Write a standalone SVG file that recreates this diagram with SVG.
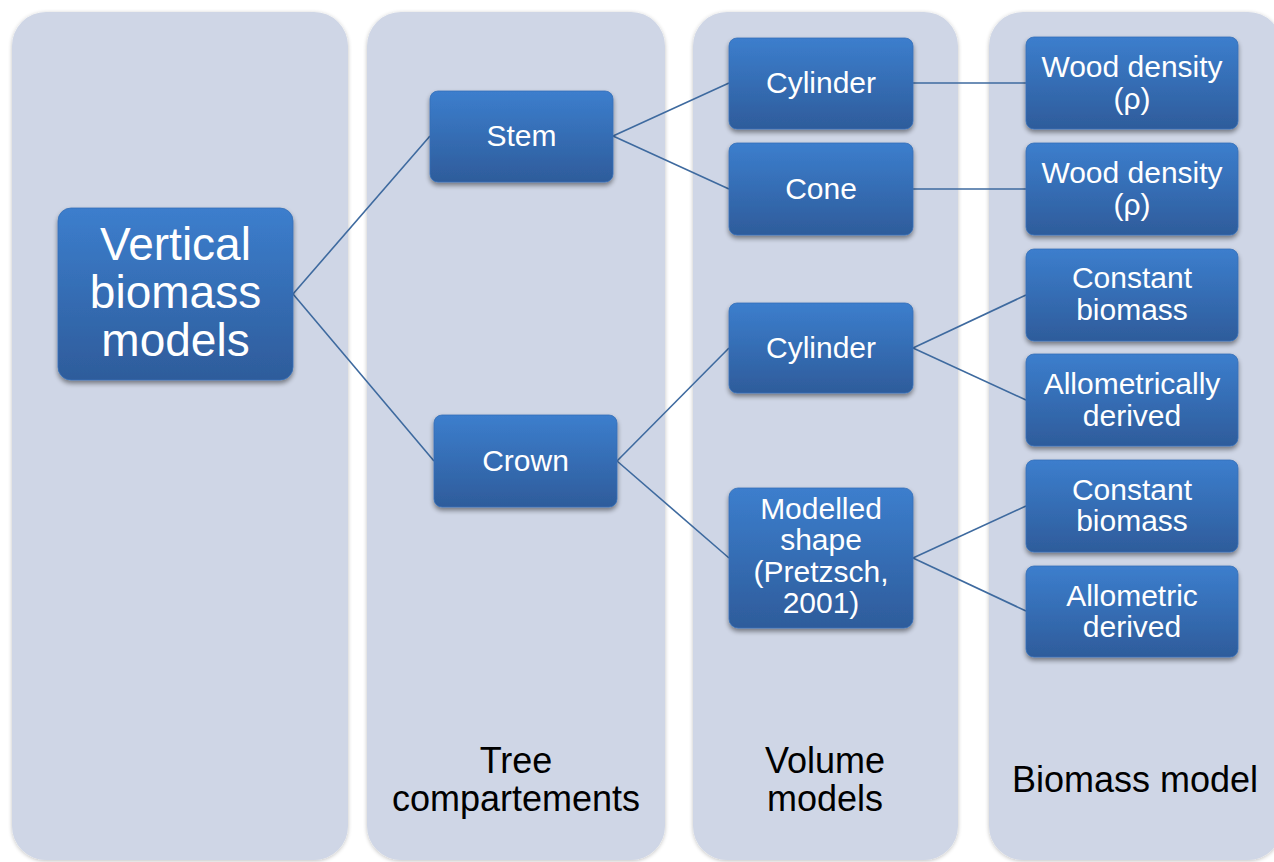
<svg xmlns="http://www.w3.org/2000/svg" width="1274" height="862" viewBox="0 0 1274 862">
<defs>
<linearGradient id="nodeGrad" x1="0" y1="0" x2="0" y2="1">
<stop offset="0" stop-color="#3c7ecd"/>
<stop offset="1" stop-color="#2e5c9b"/>
</linearGradient>
<filter id="nodeShadow" x="-20%" y="-20%" width="140%" height="150%">
<feGaussianBlur in="SourceAlpha" stdDeviation="2.5"/>
<feOffset dx="0" dy="3" result="b"/>
<feComponentTransfer><feFuncA type="linear" slope="0.45"/></feComponentTransfer>
<feMerge><feMergeNode/><feMergeNode in="SourceGraphic"/></feMerge>
</filter>
<filter id="colShadow" x="-10%" y="-5%" width="120%" height="110%">
<feGaussianBlur in="SourceAlpha" stdDeviation="2"/>
<feOffset dx="0" dy="1" result="b"/>
<feComponentTransfer><feFuncA type="linear" slope="0.25"/></feComponentTransfer>
<feMerge><feMergeNode/><feMergeNode in="SourceGraphic"/></feMerge>
</filter>
</defs>
<style>
.col{fill:#cfd6e6;filter:url(#colShadow);}
.node{fill:url(#nodeGrad);stroke:#3670b8;stroke-width:0.8;filter:url(#nodeShadow);}
.nt{font-family:"Liberation Sans",Arial,sans-serif;font-size:30px;fill:#ffffff;text-anchor:middle;}
.big{font-size:46px;}
.lbl{font-family:"Liberation Sans",Arial,sans-serif;font-size:36px;fill:#000000;text-anchor:middle;}
.conn{stroke:#3e6a9f;stroke-width:1.6;fill:none;}
</style>
<rect width="1274" height="862" fill="#ffffff"/>
<g id="columns">
<rect class="col" x="12" y="12" width="336" height="848" rx="34"/>
<rect class="col" x="367" y="12" width="298" height="848" rx="34"/>
<rect class="col" x="693" y="12" width="265" height="848" rx="34"/>
<rect class="col" x="989" y="12" width="293" height="848" rx="34"/>
</g>
<g id="column-labels">
<text class="lbl" x="516" y="773">Tree</text>
<text class="lbl" x="516" y="811">compartements</text>
<text class="lbl" x="825" y="773">Volume</text>
<text class="lbl" x="825" y="811">models</text>
<text class="lbl" x="1135" y="792">Biomass model</text>
</g>
<g id="connectors">
<line class="conn" x1="293" y1="294" x2="430" y2="136"/>
<line class="conn" x1="293" y1="294" x2="434" y2="461"/>
<line class="conn" x1="613" y1="136" x2="729" y2="83"/>
<line class="conn" x1="613" y1="136" x2="729" y2="189"/>
<line class="conn" x1="617" y1="461" x2="729" y2="348"/>
<line class="conn" x1="617" y1="461" x2="729" y2="558"/>
<line class="conn" x1="913" y1="83" x2="1026" y2="83"/>
<line class="conn" x1="913" y1="189" x2="1026" y2="189"/>
<line class="conn" x1="913" y1="348" x2="1026" y2="295"/>
<line class="conn" x1="913" y1="348" x2="1026" y2="400"/>
<line class="conn" x1="913" y1="558" x2="1026" y2="506"/>
<line class="conn" x1="913" y1="558" x2="1026" y2="611"/>
</g>
<g id="n-vertical">
<rect class="node" x="58" y="208" width="235" height="172" rx="13"/>
<text class="nt big" x="175.5" y="260">Vertical</text>
<text class="nt big" x="175.5" y="308">biomass</text>
<text class="nt big" x="175.5" y="356">models</text>
</g>
<g id="n-stem">
<rect class="node" x="430" y="91" width="183" height="91" rx="8"/>
<text class="nt" x="521.5" y="146">Stem</text>
</g>
<g id="n-crown">
<rect class="node" x="434" y="415" width="183" height="92" rx="8"/>
<text class="nt" x="525.5" y="471">Crown</text>
</g>
<g id="n-cylinder1">
<rect class="node" x="729" y="38" width="184" height="91" rx="8"/>
<text class="nt" x="821" y="93">Cylinder</text>
</g>
<g id="n-cone">
<rect class="node" x="729" y="143" width="184" height="92" rx="8"/>
<text class="nt" x="821" y="199">Cone</text>
</g>
<g id="n-cylinder2">
<rect class="node" x="729" y="303" width="184" height="90" rx="8"/>
<text class="nt" x="821" y="358">Cylinder</text>
</g>
<g id="n-modelled">
<rect class="node" x="729" y="488" width="184" height="140" rx="9"/>
<text class="nt" x="821" y="519">Modelled</text>
<text class="nt" x="821" y="550">shape</text>
<text class="nt" x="821" y="582">(Pretzsch,</text>
<text class="nt" x="821" y="613">2001)</text>
</g>
<g id="n-wood1">
<rect class="node" x="1026" y="37" width="212" height="92" rx="8"/>
<text class="nt" x="1132" y="77">Wood density</text>
<text class="nt" x="1132" y="109">(ρ)</text>
</g>
<g id="n-wood2">
<rect class="node" x="1026" y="143" width="212" height="92" rx="8"/>
<text class="nt" x="1132" y="183">Wood density</text>
<text class="nt" x="1132" y="215">(ρ)</text>
</g>
<g id="n-const1">
<rect class="node" x="1026" y="249" width="212" height="92" rx="8"/>
<text class="nt" x="1132" y="288">Constant</text>
<text class="nt" x="1132" y="320">biomass</text>
</g>
<g id="n-allo1">
<rect class="node" x="1026" y="354" width="212" height="92" rx="8"/>
<text class="nt" x="1132" y="394">Allometrically</text>
<text class="nt" x="1132" y="426">derived</text>
</g>
<g id="n-const2">
<rect class="node" x="1026" y="460" width="212" height="92" rx="8"/>
<text class="nt" x="1132" y="500">Constant</text>
<text class="nt" x="1132" y="531">biomass</text>
</g>
<g id="n-allo2">
<rect class="node" x="1026" y="566" width="212" height="91" rx="8"/>
<text class="nt" x="1132" y="606">Allometric</text>
<text class="nt" x="1132" y="637">derived</text>
</g>
</svg>
